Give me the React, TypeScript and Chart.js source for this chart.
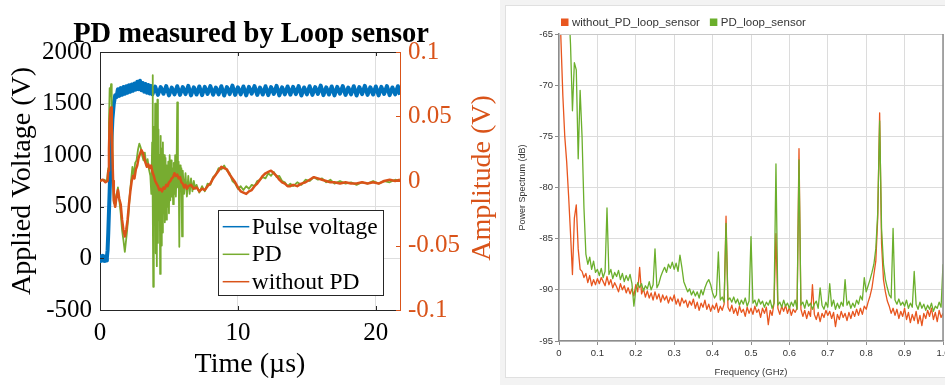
import React, { useEffect, useRef } from "react";
import { Chart, registerables } from "chart.js";

Chart.register(...registerables);

// ---------------- Left chart (MATLAB style) ----------------
const LEFT_TITLE = "PD measured by Loop sensor";
const LEFT_X_TITLE = "Time (\u00b5s)";
const LEFT_Y_TITLE = "Applied Voltage (V)";
const LEFT_Y2_TITLE = "Amplitude (V)";
const TIME_TICKS = [0, 10, 20];
const VOLT_TICKS = [-500, 0, 500, 1000, 1500, 2000];
const AMP_TICKS = [-0.1, -0.05, 0, 0.05, 0.1];
const AMP_TICK_LABELS = ["-0.1", "-0.05", "0", "0.05", "0.1"];
const SERIES_LABELS = ["Pulse voltage", "PD", "without PD"];

// [time (µs), voltage (V)]
const PULSE_VOLTAGE: [number, number][] = [
  [0, 0], [0.05, -25], [0.1, 20], [0.15, -20], [0.2, 25], [0.25, -22], [0.3, 15], [0.35, -25], [0.4, 20], [0.45, -20], [0.5, 10],
  [0.55, 80], [0.6, 250], [0.7, 650], [0.8, 1050], [0.9, 1350], [1.0, 1500], [1.1, 1580], [1.2, 1565], [1.3, 1640],
  [1.4, 1575], [1.5, 1650], [1.6, 1585], [1.7, 1660], [1.8, 1595], [1.9, 1668], [2.0, 1605], [2.1, 1678], [2.2, 1615],
  [2.3, 1685], [2.4, 1625], [2.5, 1695], [2.6, 1635], [2.7, 1712], [2.8, 1640], [2.9, 1722], [3.0, 1630], [3.1, 1700],
  [3.2, 1615], [3.3, 1690], [3.4, 1605], [3.5, 1680], [3.6, 1598], [3.7, 1672],
  [3.8, 1590], [4.0, 1665], [4.2, 1585], [4.4, 1660], [4.6, 1595], [4.8, 1670], [5.0, 1580], [5.2, 1655], [5.4, 1590],
  [5.6, 1668], [5.8, 1584], [6.0, 1660], [6.2, 1592], [6.4, 1672], [6.6, 1580], [6.8, 1658], [7.0, 1588], [7.2, 1666],
  [7.4, 1582], [7.6, 1662], [7.8, 1594], [8.0, 1670], [8.2, 1586], [8.4, 1656], [8.6, 1590], [8.8, 1668], [9.0, 1578],
  [9.2, 1660], [9.4, 1592], [9.6, 1674], [9.8, 1584], [10.0, 1658], [10.2, 1590], [10.4, 1666], [10.6, 1580], [10.8, 1662],
  [11.0, 1596], [11.2, 1670], [11.4, 1584], [11.6, 1656], [11.8, 1588], [12.0, 1668], [12.2, 1582], [12.4, 1660],
  [12.6, 1594], [12.8, 1672], [13.0, 1580], [13.2, 1658], [13.4, 1590], [13.6, 1666], [13.8, 1586], [14.0, 1662],
  [14.2, 1592], [14.4, 1670], [14.6, 1578], [14.8, 1656], [15.0, 1590], [15.2, 1668], [15.4, 1584], [15.6, 1660],
  [15.8, 1594], [16.0, 1674], [16.2, 1582], [16.4, 1658], [16.6, 1588], [16.8, 1666], [17.0, 1580], [17.2, 1662],
  [17.4, 1596], [17.6, 1670], [17.8, 1584], [18.0, 1656], [18.2, 1590], [18.4, 1668], [18.6, 1578], [18.8, 1660],
  [19.0, 1592], [19.2, 1672], [19.4, 1584], [19.6, 1658], [19.8, 1588], [20.0, 1666], [20.2, 1580], [20.4, 1662],
  [20.6, 1594], [20.8, 1670], [21.0, 1582], [21.2, 1656], [21.4, 1590], [21.6, 1668], [21.75, 1586],
];

// [time (µs), amplitude (V)]
const PD_SIGNAL: [number, number][] = [
  [0, 0], [0.3, 0.001], [0.5, 0], [0.6, 0.01], [0.65, 0.045], [0.7, 0.072], [0.75, 0.066], [0.8, 0.075], [0.85, 0.055],
  [0.9, 0.03], [0.95, 0.0], [1.0, -0.017], [1.05, -0.01], [1.1, -0.02], [1.2, -0.012], [1.3, -0.005], [1.4, -0.015],
  [1.5, -0.025], [1.6, -0.038], [1.7, -0.046], [1.8, -0.055], [1.85, -0.05], [1.95, -0.04], [2.05, -0.028], [2.15, -0.012],
  [2.25, 0.0], [2.35, 0.011], [2.45, 0.004], [2.55, 0.014], [2.65, 0.016], [2.75, 0.024], [2.85, 0.029], [2.95, 0.026],
  [3.05, 0.02], [3.15, 0.016], [3.25, 0.022], [3.35, 0.012], [3.45, 0.017], [3.55, 0.009], [3.65, 0.004], [3.72, -0.01],
  [3.78, 0.03], [3.81, 0.082], [3.84, -0.02], [3.86, -0.082], [3.9, 0.042], [3.95, -0.03], [4.0, 0.06], [4.04, -0.056],
  [4.08, 0.03], [4.12, -0.066], [4.16, 0.063], [4.2, -0.048], [4.24, 0.04], [4.28, -0.03], [4.32, 0.02], [4.36, -0.072],
  [4.4, 0.035], [4.44, -0.05], [4.48, 0.025], [4.52, -0.04], [4.56, 0.03], [4.6, -0.025], [4.65, 0.02], [4.7, -0.032],
  [4.75, 0.018], [4.8, -0.03], [4.85, 0.012], [4.9, -0.02], [4.95, 0.015], [5.0, -0.025], [5.05, 0.02], [5.1, -0.015],
  [5.15, 0.016], [5.2, -0.012], [5.25, 0.01], [5.3, -0.018], [5.35, 0.014], [5.4, -0.01], [5.45, 0.02], [5.5, -0.012],
  [5.55, 0.008], [5.6, 0.061], [5.65, -0.005], [5.7, 0.015], [5.75, -0.051], [5.8, 0.012], [5.85, -0.008], [5.9, 0.01],
  [5.95, -0.043], [6.0, 0.008], [6.1, -0.01], [6.2, 0.006], [6.3, -0.012], [6.4, 0.004], [6.5, -0.01], [6.6, 0.002],
  [6.7, -0.008], [6.8, 0.0], [6.9, -0.006], [7.0, -0.003], [7.2, -0.009], [7.4, -0.004], [7.6, -0.008], [7.8, -0.002],
  [8.0, -0.003], [8.2, 0.003], [8.4, 0.005], [8.6, 0.01], [8.8, 0.009], [9.0, 0.012], [9.2, 0.008], [9.4, 0.006],
  [9.6, 0.0], [9.8, -0.002], [10.0, -0.006], [10.2, -0.004], [10.4, -0.007], [10.6, -0.004], [10.8, -0.006], [11.0, -0.003],
  [11.2, -0.004], [11.4, 0.0], [11.6, 0.001], [11.8, 0.003], [12.0, 0.002], [12.2, 0.006], [12.4, 0.004], [12.6, 0.007],
  [12.8, 0.003], [13.0, 0.004], [13.2, 0.0], [13.4, -0.001], [13.6, -0.004], [13.8, -0.002], [14.0, -0.004], [14.3, -0.001],
  [14.6, -0.003], [14.9, 0.001], [15.2, 0.0], [15.5, 0.003], [15.8, 0.001], [16.1, 0.002], [16.4, -0.001], [16.7, 0.001],
  [17.0, -0.002], [17.4, 0.0], [17.8, -0.002], [18.2, -0.001], [18.6, -0.003], [19.0, -0.001], [19.4, -0.002], [19.8, 0.0],
  [20.2, -0.002], [20.6, 0.0], [21.0, -0.001], [21.4, 0.001], [21.75, 0.0],
];

// [time (µs), amplitude (V)]
const WITHOUT_PD_SIGNAL: [number, number][] = [
  [0, 0.0], [0.2, 0.001], [0.4, -0.001], [0.55, 0.0], [0.6, 0.008], [0.65, 0.025], [0.7, 0.045], [0.75, 0.055],
  [0.8, 0.057], [0.85, 0.045], [0.9, 0.021], [0.95, 0.0], [1.0, -0.015], [1.1, -0.02], [1.2, -0.012], [1.3, -0.007],
  [1.4, -0.014], [1.5, -0.018], [1.6, -0.03], [1.7, -0.038], [1.8, -0.043], [1.9, -0.038], [2.0, -0.03], [2.1, -0.018],
  [2.2, -0.008], [2.3, 0.0], [2.4, 0.004], [2.5, 0.002], [2.6, 0.009], [2.7, 0.012], [2.8, 0.018], [2.9, 0.021],
  [3.0, 0.024], [3.1, 0.022], [3.2, 0.018], [3.3, 0.014], [3.4, 0.011], [3.5, 0.013], [3.6, 0.01], [3.7, 0.012],
  [3.8, 0.007], [3.9, 0.004], [4.0, 0.0], [4.1, -0.002], [4.2, -0.004], [4.3, -0.007], [4.4, -0.006], [4.5, -0.008],
  [4.6, -0.005], [4.7, -0.006], [4.8, -0.003], [4.9, -0.004], [5.0, -0.001], [5.1, 0.0], [5.2, 0.002], [5.3, 0.003],
  [5.4, 0.006], [5.5, 0.004], [5.6, 0.005], [5.7, 0.002], [5.8, 0.003], [5.9, -0.001], [6.0, -0.002], [6.1, -0.005],
  [6.2, -0.003], [6.3, -0.006], [6.4, -0.004], [6.6, -0.003], [6.8, -0.006], [7.0, -0.005], [7.2, -0.008], [7.4, -0.006],
  [7.6, -0.007], [7.8, -0.004], [8.0, -0.002], [8.2, 0.002], [8.4, 0.005], [8.6, 0.008], [8.8, 0.011], [9.0, 0.01],
  [9.2, 0.009], [9.4, 0.005], [9.6, 0.002], [9.8, -0.001], [10.0, -0.005], [10.2, -0.008], [10.4, -0.009], [10.6, -0.01],
  [10.8, -0.008], [11.0, -0.007], [11.2, -0.004], [11.4, -0.002], [11.6, 0.001], [11.8, 0.004], [12.0, 0.006], [12.2, 0.007],
  [12.4, 0.008], [12.6, 0.006], [12.8, 0.004], [13.0, 0.001], [13.2, -0.001], [13.4, -0.002], [13.6, -0.004], [13.8, -0.004],
  [14.0, -0.003], [14.3, -0.004], [14.6, -0.002], [14.9, -0.001], [15.2, 0.001], [15.5, 0.003], [15.8, 0.002], [16.1, 0.001],
  [16.4, 0.0], [16.7, -0.001], [17.0, -0.001], [17.4, -0.002], [17.8, -0.001], [18.2, -0.002], [18.6, -0.002], [19.0, -0.001],
  [19.4, -0.002], [19.8, -0.001], [20.2, -0.002], [20.6, 0.0], [21.0, 0.001], [21.4, 0.0], [21.75, 0.001],
];

// ---------------- Right chart (spectrum) ----------------
const SPEC_X_TITLE = "Frequency (GHz)";
const SPEC_Y_TITLE = "Power Spectrum (dB)";
const SPEC_LABELS = ["without_PD_loop_sensor", "PD_loop_sensor"];
const FREQ_STEP = 0.005; // GHz, sample spacing of the two spectra below
const FREQ_TICKS = [0, 0.1, 0.2, 0.3, 0.4, 0.5, 0.6, 0.7, 0.8, 0.9, 1.0];
const FREQ_TICK_LABELS = ["0", "0.1", "0.2", "0.3", "0.4", "0.5", "0.6", "0.7", "0.8", "0.9", "1.0"];
const DB_TICKS = [-95, -90, -85, -80, -75, -70, -65];

const SPEC_WITHOUT_PD = [
  -60, -65.5, -71, -75, -77.5, -80.8, -84.5, -88.5, -83, -81.7,
  -86, -88, -88.2, -88.8, -88.4, -89.3, -88.6, -89.6, -89.0, -89.5,
  -88.9, -89.4, -88.8, -89.2, -89.6, -88.7, -89.5, -89.0, -89.8, -89.3,
  -89.7, -90.2, -89.4, -90.0, -89.6, -90.3, -89.8, -90.4, -89.9, -90.6,
  -89.5, -90.2, -87.8, -90.4, -89.9, -90.7, -90.1, -90.8, -90.3, -91.0,
  -90.2, -90.9, -90.4, -91.2, -90.5, -91.0, -90.6, -91.3, -90.7, -91.1,
  -90.5, -91.4, -90.9, -91.6, -90.8, -91.3, -91.0, -91.7, -91.1, -91.5,
  -90.9, -91.8, -91.2, -92.0, -91.3, -91.7, -91.0, -91.9, -91.4, -92.1,
  -91.5, -91.9, -91.3, -92.2, -91.6, -92.0, -91.4, -82.8, -91.7, -92.1,
  -91.5, -92.3, -91.8, -92.5, -91.6, -92.2, -91.9, -92.6, -91.7, -92.3,
  -91.8, -92.4, -91.6, -92.2, -91.9, -92.7, -91.8, -92.3, -91.7, -93.4,
  -92.0, -92.5, -91.3, -84.5, -91.8, -92.4, -91.6, -92.1, -91.5, -92.3,
  -91.7, -92.5, -91.9, -92.2, -91.8, -76.2, -91.9, -92.6, -92.0, -92.8,
  -92.1, -92.6, -89.5, -92.4, -92.9, -92.2, -93.1, -92.3, -92.7, -92.0,
  -92.5, -92.1, -92.8, -92.2, -93.6, -92.4, -92.9, -92.1, -92.7, -92.3,
  -93.0, -92.2, -92.8, -92.1, -92.6, -91.9, -92.5, -91.8, -92.4, -91.6,
  -91.9, -91.2, -90.6, -89.8, -88.5, -87.2, -83.0, -72.7, -85.5, -89.0,
  -90.2, -91.1, -91.6, -92.3, -91.8, -92.5, -91.9, -92.8, -92.1, -92.6,
  -91.8, -92.9, -92.2, -93.2, -92.4, -93.0, -92.1, -93.3, -92.5, -93.5,
  -92.3, -92.8, -92.0, -92.6, -91.8, -92.9, -92.2, -93.1, -92.0, -92.7,
  -92.3,
];

const SPEC_PD = [
  -55, -56, -57, -58, -60, -62, -66, -72.5, -67.8, -68.5,
  -77.2, -70.5, -75, -82, -86.5, -87.5, -86.8, -88.0, -87.2, -88.3,
  -88.0, -88.6, -87.9, -88.8, -88.2, -82.0, -88.5, -88.0, -88.9, -88.3,
  -88.7, -88.1, -89.0, -88.4, -89.2, -88.6, -89.1, -88.5, -89.4, -91.6,
  -90.0, -89.3, -89.8, -89.4, -90.1, -89.6, -89.9, -89.2, -90.0, -89.5,
  -86.0, -89.8, -89.4, -88.7, -88.2, -87.8, -88.3, -87.5, -87.9, -87.3,
  -88.0, -87.4, -88.2, -86.6, -87.8, -89.2, -89.7, -90.2, -89.9, -90.5,
  -90.1, -90.6, -90.2, -90.8, -90.0, -90.5, -89.8, -89.3, -89.0, -89.5,
  -90.3, -90.8, -90.5, -86.3, -91.0, -90.7, -91.2, -83.5, -91.0, -90.8,
  -91.2, -90.7, -91.3, -90.9, -91.5, -91.0, -91.4, -90.8, -91.6, -91.1,
  -84.8, -91.3, -91.0, -91.6, -90.9, -91.4, -91.1, -91.7, -91.2, -91.5,
  -91.0, -91.8, -91.3, -77.7, -91.5, -91.2, -91.7, -91.0, -91.6, -91.3,
  -91.8, -91.2, -91.6, -91.0, -91.9, -77.3, -91.5, -91.2, -91.8, -91.0,
  -91.6, -91.3, -91.9, -91.4, -91.1, -91.8, -89.8, -91.5, -91.9, -91.2,
  -91.7, -89.4, -91.6, -91.0, -91.9, -91.3, -91.8, -91.2, -91.6, -89.0,
  -91.5, -91.1, -91.8, -91.3, -91.7, -91.0, -91.4, -90.6, -91.0, -88.8,
  -90.2, -89.6, -89.0, -88.3, -87.5, -86.0, -82.5, -73.5, -84.0, -87.5,
  -89.0, -89.8, -90.5, -90.8, -84.0, -91.0, -91.4, -90.9, -91.5, -91.2,
  -91.6, -91.0, -91.8, -91.3, -91.7, -88.2, -91.4, -91.9, -91.2, -91.8,
  -91.4, -92.0, -91.5, -91.9, -91.3, -92.1, -91.6, -91.8, -91.2, -91.7,
  -87.5,
];

// ---------------- styles ----------------
const M_BLUE = "#0072BD";
const M_GREEN = "#77AC30";
const M_ORANGE = "#D95319";
const S_ORANGE = "#E8561F";
const S_GREEN = "#6BAF2C";
const SERIF = '"Liberation Serif", "Times New Roman", serif';
const SANS = '"Liberation Sans", Arial, Helvetica, sans-serif';

const leftDecor = {
  id: "leftDecor",
  afterDraw(chart: any) {
    const { ctx, chartArea: a, scales } = chart;
    ctx.save();
    // title
    ctx.fillStyle = "#000";
    ctx.font = `bold 28.5px ${SERIF}`;
    ctx.textAlign = "center";
    ctx.textBaseline = "alphabetic";
    ctx.fillText(LEFT_TITLE, (a.left + a.right) / 2 + 1, 41.5);

    // top border
    ctx.strokeStyle = "#262626";
    ctx.lineWidth = 1;
    ctx.beginPath();
    ctx.moveTo(a.left, a.top + 0.5);
    ctx.lineTo(a.right, a.top + 0.5);
    ctx.stroke();

    // inward ticks
    const tl = 4;
    ctx.beginPath();
    for (const v of TIME_TICKS) {
      const x = Math.round(scales.x.getPixelForValue(v)) + 0.5;
      ctx.moveTo(x, a.bottom);
      ctx.lineTo(x, a.bottom - tl);
      ctx.moveTo(x, a.top);
      ctx.lineTo(x, a.top + tl);
    }
    for (const v of VOLT_TICKS) {
      const y = Math.round(scales.y.getPixelForValue(v)) + 0.5;
      ctx.moveTo(a.left, y);
      ctx.lineTo(a.left + tl, y);
    }
    ctx.stroke();
    ctx.strokeStyle = M_ORANGE;
    ctx.beginPath();
    for (const v of AMP_TICKS) {
      const y = Math.round(scales.y2.getPixelForValue(v)) + 0.5;
      ctx.moveTo(a.right, y);
      ctx.lineTo(a.right - tl, y);
    }
    ctx.stroke();

    // right axis title (reads bottom to top)
    ctx.save();
    ctx.translate(483, (a.top + a.bottom) / 2 - 3);
    ctx.rotate(-Math.PI / 2);
    ctx.font = `28px ${SERIF}`;
    ctx.fillStyle = M_ORANGE;
    ctx.textAlign = "center";
    ctx.textBaseline = "middle";
    ctx.fillText(LEFT_Y2_TITLE, 0, 0);
    ctx.restore();

    // legend box
    const bx = 218.5, by = 210.5, bw = 165, bh = 85;
    ctx.fillStyle = "#fff";
    ctx.fillRect(bx, by, bw, bh);
    ctx.strokeStyle = "#262626";
    ctx.lineWidth = 1;
    ctx.strokeRect(bx, by, bw, bh);
    const colors = [M_BLUE, M_GREEN, M_ORANGE];
    const rows = [226.7, 254.3, 281.7];
    ctx.font = `23.5px ${SERIF}`;
    ctx.textAlign = "left";
    ctx.textBaseline = "middle";
    SERIES_LABELS.forEach((lab, i) => {
      ctx.strokeStyle = colors[i];
      ctx.lineWidth = 1.5;
      ctx.beginPath();
      ctx.moveTo(222.7, rows[i]);
      ctx.lineTo(249.3, rows[i]);
      ctx.stroke();
      ctx.fillStyle = "#000";
      ctx.fillText(lab, 251.7, rows[i] + 1);
    });
    ctx.restore();
  },
};

const rightDecor = {
  id: "rightDecor",
  afterDraw(chart: any) {
    const { ctx, chartArea: a } = chart;
    ctx.save();
    // top and right borders
    ctx.strokeStyle = "#c8c8c8";
    ctx.lineWidth = 1;
    ctx.beginPath();
    ctx.moveTo(a.left, a.top + 0.5);
    ctx.lineTo(a.right, a.top + 0.5);
    ctx.stroke();
    ctx.strokeStyle = "#8c8c8c";
    ctx.lineWidth = 1.5;
    ctx.beginPath();
    ctx.moveTo(a.right, a.top);
    ctx.lineTo(a.right, a.bottom);
    ctx.stroke();

    // legend
    ctx.font = `11.5px ${SANS}`;
    ctx.textBaseline = "middle";
    ctx.textAlign = "left";
    let x = 56;
    const y = 17.5;
    const cols = [S_ORANGE, S_GREEN];
    SPEC_LABELS.forEach((lab, i) => {
      ctx.fillStyle = cols[i];
      ctx.fillRect(x, y - 4, 7.5, 7.5);
      ctx.fillStyle = "#333";
      ctx.fillText(lab, x + 11, y);
      x += 11 + ctx.measureText(lab).width + 10;
    });
    ctx.restore();
  },
};

function toXY(pairs: [number, number][]) {
  return pairs.map(([x, y]) => ({ x, y }));
}

export default function App() {
  const leftRef = useRef<HTMLCanvasElement>(null);
  const rightRef = useRef<HTMLCanvasElement>(null);

  useEffect(() => {
    const left = new Chart(leftRef.current as HTMLCanvasElement, {
      type: "line",
      data: {
        datasets: [
          {
            label: SERIES_LABELS[2],
            data: toXY(WITHOUT_PD_SIGNAL),
            yAxisID: "y2",
            borderColor: M_ORANGE,
            borderWidth: 2.5,
            borderJoinStyle: "round",
            pointRadius: 0,
            order: 0,
          },
          {
            label: SERIES_LABELS[1],
            data: toXY(PD_SIGNAL),
            yAxisID: "y2",
            borderColor: M_GREEN,
            borderWidth: 1.8,
            borderJoinStyle: "round",
            pointRadius: 0,
            order: 1,
          },
          {
            label: SERIES_LABELS[0],
            data: toXY(PULSE_VOLTAGE),
            yAxisID: "y",
            borderColor: M_BLUE,
            borderWidth: 4,
            borderJoinStyle: "round",
            pointRadius: 0,
            order: 2,
          },
        ],
      },
      options: {
        animation: false,
        responsive: false,
        events: [],
        layout: { padding: { top: 52, left: 0, right: 0, bottom: 0 }, autoPadding: false },
        elements: { line: { tension: 0 } },
        plugins: { legend: { display: false }, tooltip: { enabled: false }, title: { display: false } },
        scales: {
          x: {
            type: "linear",
            min: 0,
            max: 21.75,
            afterBuildTicks: (s: any) => {
              s.ticks = TIME_TICKS.map((v) => ({ value: v }));
            },
            afterFit: (s: any) => {
              s.height = 75;
              s.paddingLeft = 0;
              s.paddingRight = 0;
            },
            ticks: {
              color: "#000",
              font: { family: SERIF, size: 25 },
              padding: 8,
              maxRotation: 0,
              callback: (v: any) => String(v),
            },
            grid: { color: "#dedede", drawTicks: false },
            border: { color: "#262626", width: 1 },
            title: {
              display: true,
              text: LEFT_X_TITLE,
              color: "#000",
              font: { family: SERIF, size: 28 },
              padding: { top: 0, bottom: 4 },
            },
          },
          y: {
            type: "linear",
            position: "left",
            min: -500,
            max: 2000,
            afterBuildTicks: (s: any) => {
              s.ticks = VOLT_TICKS.map((v) => ({ value: v }));
            },
            afterFit: (s: any) => {
              s.width = 100;
            },
            ticks: {
              color: "#000",
              font: { family: SERIF, size: 25 },
              padding: 8,
              callback: (v: any) => String(v),
            },
            grid: { color: "#dedede", drawTicks: false },
            border: { color: "#262626", width: 1 },
            title: {
              display: true,
              text: LEFT_Y_TITLE,
              color: "#000",
              font: { family: SERIF, size: 28 },
              padding: { top: 6, bottom: 0 },
            },
          },
          y2: {
            type: "linear",
            position: "right",
            min: -0.1,
            max: 0.1,
            afterBuildTicks: (s: any) => {
              s.ticks = AMP_TICKS.map((v) => ({ value: v }));
            },
            afterFit: (s: any) => {
              s.width = 100;
            },
            ticks: {
              color: M_ORANGE,
              font: { family: SERIF, size: 25 },
              padding: 8,
              callback: (_v: any, i: number) => AMP_TICK_LABELS[i],
            },
            grid: { display: false, drawTicks: false },
            border: { color: M_ORANGE, width: 1 },
          },
        },
      },
      plugins: [leftDecor],
    } as any);

    const freqs = SPEC_PD.map((_, i) => i * FREQ_STEP);
    const right = new Chart(rightRef.current as HTMLCanvasElement, {
      type: "line",
      data: {
        datasets: [
          {
            label: SPEC_LABELS[1],
            data: SPEC_PD.map((v, i) => ({ x: freqs[i], y: v })),
            borderColor: S_GREEN,
            borderWidth: 1.3,
            borderJoinStyle: "round",
            pointRadius: 0,
            order: 0,
          },
          {
            label: SPEC_LABELS[0],
            data: SPEC_WITHOUT_PD.map((v, i) => ({ x: freqs[i], y: v })),
            borderColor: S_ORANGE,
            borderWidth: 1.3,
            borderJoinStyle: "round",
            pointRadius: 0,
            order: 1,
          },
        ],
      },
      options: {
        animation: false,
        responsive: false,
        events: [],
        layout: { padding: { top: 29, left: 0, right: 2, bottom: 0 }, autoPadding: false },
        elements: { line: { tension: 0 } },
        plugins: { legend: { display: false }, tooltip: { enabled: false }, title: { display: false } },
        scales: {
          x: {
            type: "linear",
            min: 0,
            max: 1,
            afterBuildTicks: (s: any) => {
              s.ticks = FREQ_TICKS.map((v) => ({ value: v }));
            },
            afterFit: (s: any) => {
              s.height = 37;
              s.paddingLeft = 0;
              s.paddingRight = 0;
            },
            ticks: {
              color: "#333",
              font: { family: SANS, size: 9.5 },
              padding: 2.5,
              maxRotation: 0,
              autoSkip: false,
              callback: (_v: any, i: number) => FREQ_TICK_LABELS[i],
            },
            grid: { color: "#dcdcdc", lineWidth: 1, tickColor: "#8c8c8c", tickLength: 4 },
            border: { color: "#8c8c8c", width: 1.5 },
            title: {
              display: true,
              text: SPEC_X_TITLE,
              color: "#333",
              font: { family: SANS, size: 9.5 },
              padding: { top: 0, bottom: 0 },
            },
          },
          y: {
            type: "linear",
            min: -95,
            max: -65,
            afterBuildTicks: (s: any) => {
              s.ticks = DB_TICKS.map((v) => ({ value: v }));
            },
            afterFit: (s: any) => {
              s.width = 54;
            },
            ticks: {
              color: "#333",
              font: { family: SANS, size: 9.5 },
              padding: 2,
              callback: (v: any) => String(v),
            },
            grid: { color: "#dcdcdc", lineWidth: 1, tickColor: "#8c8c8c", tickLength: 4 },
            border: { color: "#8c8c8c", width: 1.5 },
            title: {
              display: true,
              text: SPEC_Y_TITLE,
              color: "#333",
              font: { family: SANS, size: 9 },
              padding: { top: 12.5, bottom: 0 },
            },
          },
        },
      },
      plugins: [rightDecor],
    } as any);

    return () => {
      left.destroy();
      right.destroy();
    };
  }, []);

  return (
    <div
      style={{
        position: "absolute",
        left: 0,
        top: 0,
        width: 945,
        height: 385,
        background: "#fff",
        overflow: "hidden",
      }}
    >
      <canvas
        ref={leftRef}
        width={500}
        height={385}
        style={{ position: "absolute", left: 0, top: 0, width: 500, height: 385 }}
      />
      <div
        style={{
          position: "absolute",
          left: 500,
          top: 0,
          width: 445,
          height: 385,
          background: "#f3f3f3",
        }}
      >
        <div
          style={{
            position: "absolute",
            left: 5,
            top: 5,
            width: 440,
            height: 373,
            background: "#fff",
            boxShadow: "inset 1px 1px 0 0 #e0e0e0, inset 0 -1px 0 0 #e0e0e0",
          }}
        >
          <canvas
            ref={rightRef}
            width={440}
            height={373}
            style={{ position: "absolute", left: 0, top: 0, width: 440, height: 373 }}
          />
        </div>
      </div>
    </div>
  );
}
